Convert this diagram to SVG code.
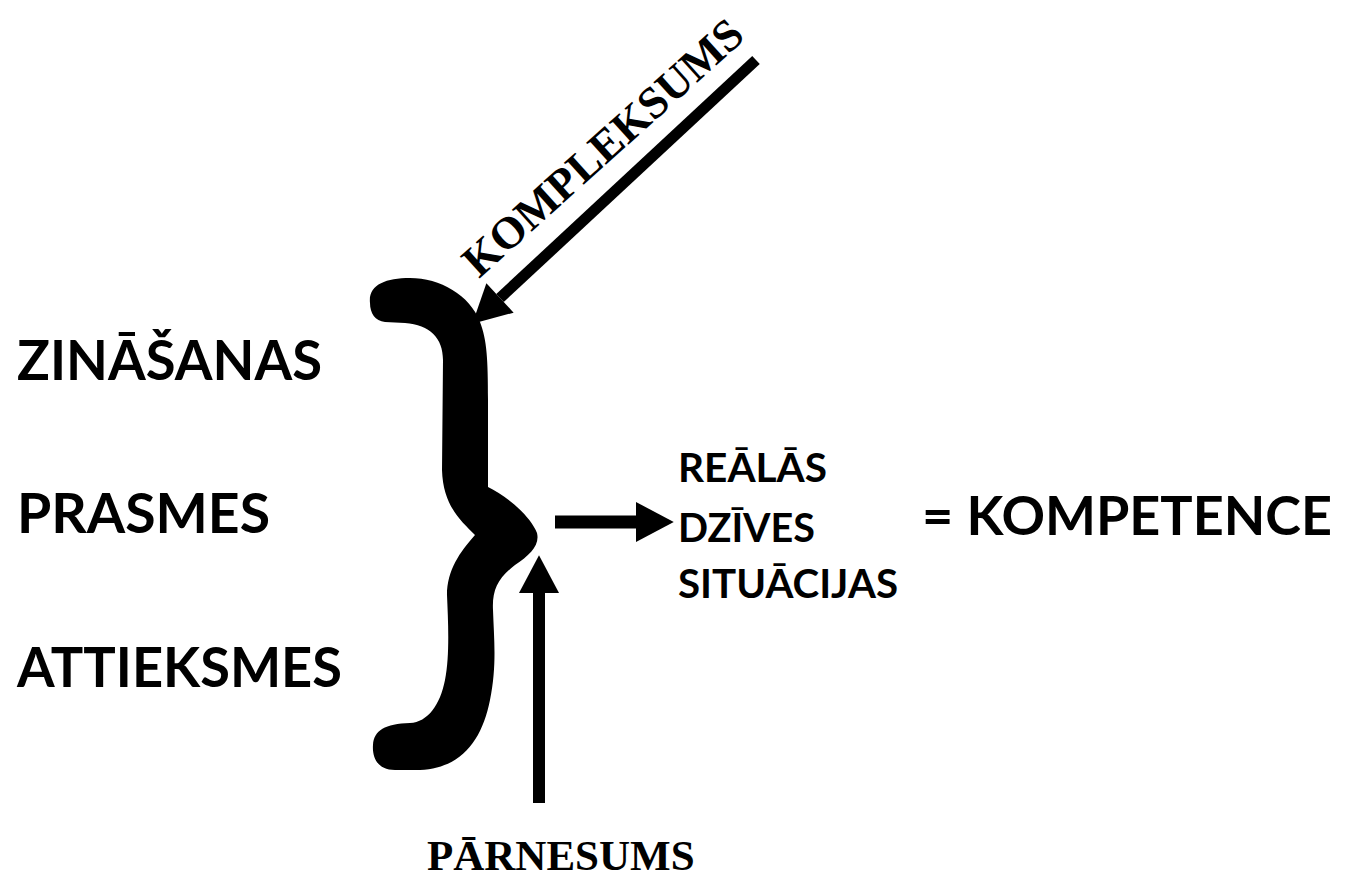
<svg xmlns="http://www.w3.org/2000/svg" width="1345" height="880" viewBox="0 0 1345 880">
<defs>
<style>
.sans{font-family:Lato,"Open Sans","Liberation Sans",sans-serif;font-weight:bold;fill:#000}
.serif{font-family:"Liberation Serif","Times New Roman",serif;font-weight:bold;fill:#000}
.big{font-size:56px}
.mid{font-size:40px}
.kom{font-size:53px}
.ser{font-size:43px}
.conn{stroke:#000;fill:none}
</style>
<marker id="head" markerUnits="userSpaceOnUse" markerWidth="40" markerHeight="40" viewBox="0 0 34 36" refX="0" refY="18" orient="auto">
<path d="M0 0 L34 18 L0 36 Z" fill="#000"/>
</marker>
</defs>
<rect width="1345" height="880" fill="#fff"/>
<g id="brace">
<path fill="#000" d="M 370 303 C 368 285, 385 278, 410 278 C 440 278, 470 295, 480 322 C 487 340, 488 360, 488 400 L 488 487 C 505 495, 530 515, 537 533 C 540 545, 530 555, 515 565 C 498 578, 492 590, 493 610 C 494 640, 497 665, 490 700 C 482 740, 462 768, 420 770 L 395 770 C 378 770, 372 758, 373 745 C 374 730, 385 724, 410 723 C 428 722, 440 705, 445 680 C 450 655, 448 620, 447 595 C 447 570, 460 552, 475 535 C 460 520, 443 505, 442 470 L 443 360 C 443 338, 430 325, 405 323 L 385 322 C 375 321, 370 313, 370 303 Z"/>
</g>
<g id="connectors">
<line class="conn" x1="756" y1="60" x2="500" y2="298" stroke-width="11" marker-end="url(#head)"/>
<line class="conn" x1="555" y1="522" x2="636" y2="522" stroke-width="13" marker-end="url(#head)"/>
<line class="conn" x1="539" y1="803" x2="539" y2="593" stroke-width="12" marker-end="url(#head)"/>
</g>
<g id="zinasanas"><text class="sans big" x="17" y="380" textLength="305" lengthAdjust="spacingAndGlyphs">ZINĀŠANAS</text></g>
<g id="prasmes"><text class="sans big" x="17" y="533" textLength="253" lengthAdjust="spacingAndGlyphs">PRASMES</text></g>
<g id="attieksmes"><text class="sans big" x="17" y="687" textLength="325" lengthAdjust="spacingAndGlyphs">ATTIEKSMES</text></g>
<g id="situacijas">
<text class="sans mid" x="678" y="482" textLength="149" lengthAdjust="spacingAndGlyphs">REĀLĀS</text>
<text class="sans mid" x="678" y="542" textLength="137" lengthAdjust="spacingAndGlyphs">DZĪVES</text>
<text class="sans mid" x="678" y="598" textLength="220" lengthAdjust="spacingAndGlyphs">SITUĀCIJAS</text>
</g>
<g id="kompetence"><text class="sans kom" x="922" y="535" textLength="410" lengthAdjust="spacingAndGlyphs">= KOMPETENCE</text></g>
<g id="kompleksums"><text class="serif" font-size="45" transform="translate(479,279) rotate(-42)">KOMPLEKSUMS</text></g>
<g id="parnesums"><text class="serif ser" x="427" y="870">PĀRNESUMS</text></g>
</svg>
